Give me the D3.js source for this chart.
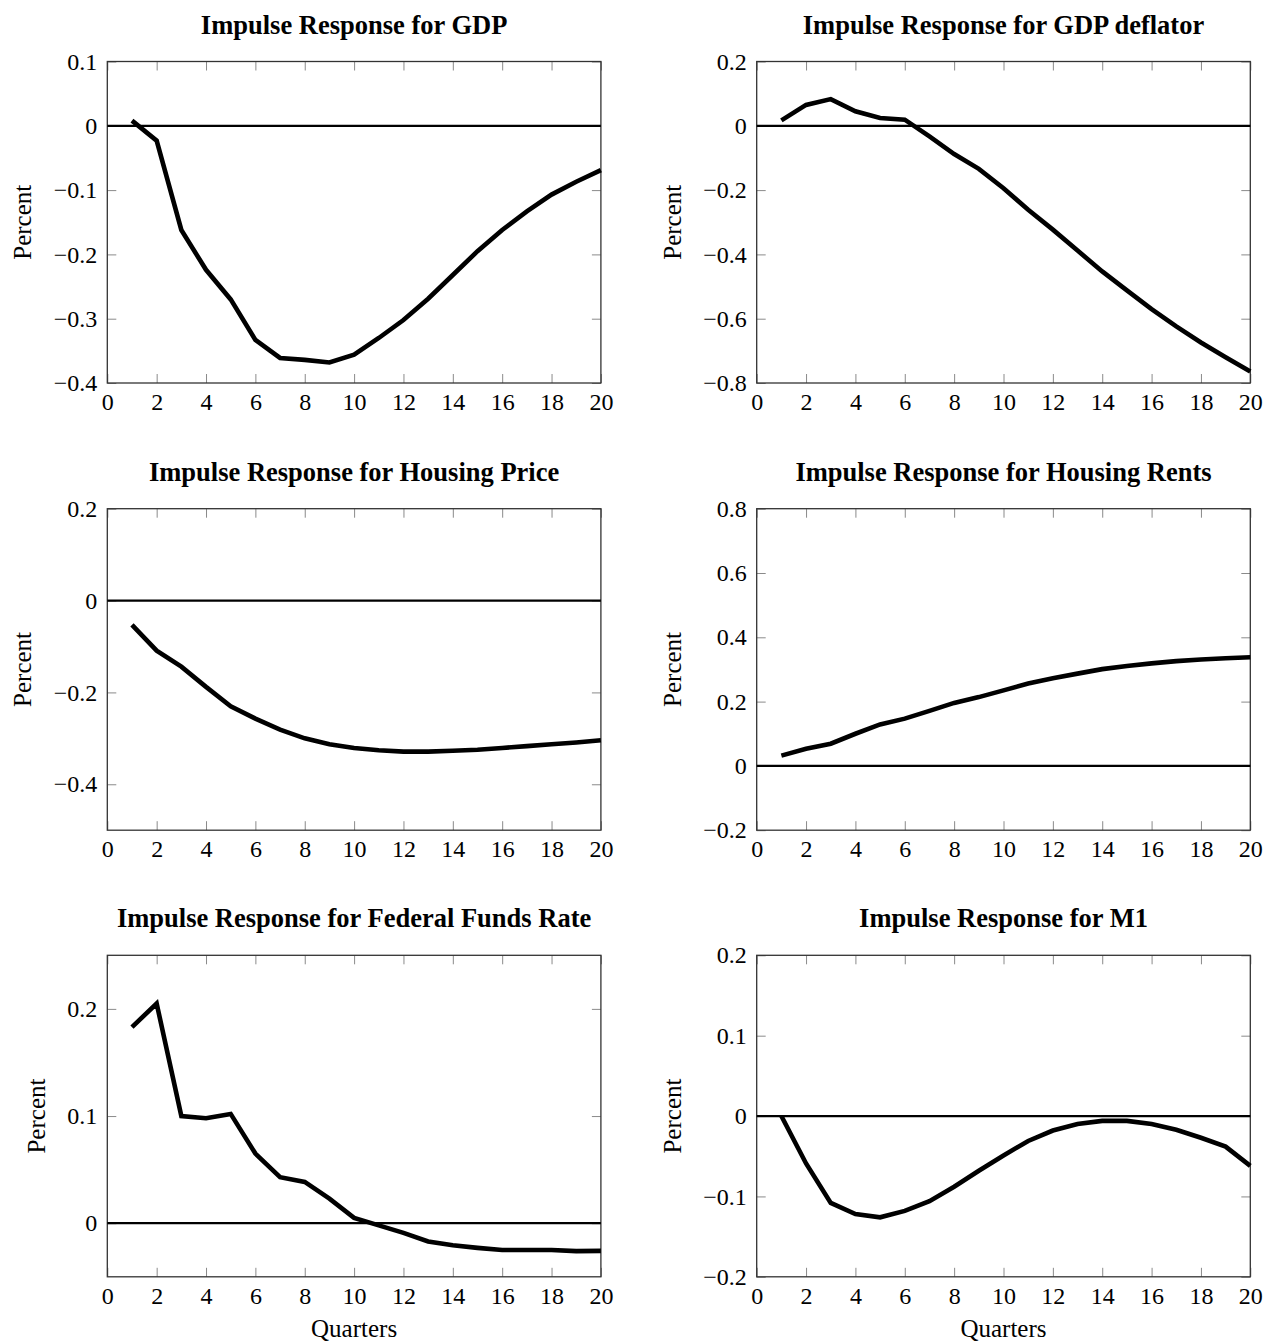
<!DOCTYPE html>
<html>
<head>
<meta charset="utf-8">
<script src="https://cdn.jsdelivr.net/npm/d3@7.9.0/dist/d3.min.js"></script>
<style>
  body { margin: 0; background: #fff; }
  svg text { font-family: "Liberation Serif", "Times New Roman", serif; fill: #000; }
</style>
</head>
<body>
<svg id="chart" width="1266" height="1342"></svg>
<script>
// quarters after the shock
const quarters = d3.range(1, 21);

// impulse responses
const gdp = [0.008, -0.023, -0.162, -0.224, -0.270, -0.333, -0.361, -0.364, -0.368, -0.356,
             -0.330, -0.302, -0.269, -0.232, -0.195, -0.162, -0.133, -0.107, -0.087, -0.069];
const gdpDeflator = [0.017, 0.065, 0.083, 0.045, 0.024, 0.019, -0.033, -0.088, -0.134, -0.194,
                     -0.261, -0.323, -0.388, -0.453, -0.512, -0.570, -0.624, -0.674, -0.720, -0.764];
const housingPrice = [-0.053, -0.109, -0.144, -0.188, -0.230, -0.257, -0.281, -0.300, -0.313, -0.321,
                      -0.326, -0.329, -0.329, -0.327, -0.325, -0.321, -0.317, -0.313, -0.309, -0.304];
const housingRents = [0.032, 0.053, 0.069, 0.100, 0.129, 0.147, 0.171, 0.196, 0.214, 0.235,
                      0.256, 0.273, 0.287, 0.301, 0.311, 0.319, 0.326, 0.331, 0.335, 0.338];
const fedFunds = [0.183, 0.205, 0.100, 0.098, 0.102, 0.065, 0.043, 0.0385, 0.023, 0.005,
                  -0.002, -0.009, -0.017, -0.0205, -0.023, -0.025, -0.025, -0.025, -0.026, -0.0258];
const m1 = [0.000, -0.059, -0.108, -0.122, -0.126, -0.118, -0.106, -0.088, -0.068, -0.049,
            -0.031, -0.018, -0.010, -0.006, -0.006, -0.010, -0.017, -0.027, -0.038, -0.062];

const titles = ["Impulse Response for GDP", "Impulse Response for GDP deflator",
                "Impulse Response for Housing Price", "Impulse Response for Housing Rents",
                "Impulse Response for Federal Funds Rate", "Impulse Response for M1"];
const series = [gdp, gdpDeflator, housingPrice, housingRents, fedFunds, m1];
const yDomains = [[-0.4, 0.1], [-0.8, 0.2], [-0.5, 0.2], [-0.2, 0.8], [-0.05, 0.25], [-0.2, 0.2]];
const yTicks = [
  [-0.4, -0.3, -0.2, -0.1, 0, 0.1],
  [-0.8, -0.6, -0.4, -0.2, 0, 0.2],
  [-0.4, -0.2, 0, 0.2],
  [-0.2, 0, 0.2, 0.4, 0.6, 0.8],
  [0, 0.1, 0.2],
  [-0.2, -0.1, 0, 0.1, 0.2]
];
const xDomain = [0, 20];
const xTicks = [0, 2, 4, 6, 8, 10, 12, 14, 16, 18, 20];
const yLabel = "Percent";
const xLabel = "Quarters";

// layout
const colLeft = [107.3, 756.7];
const rowTop = [61.5, 508.7, 955.3];
const plotW = 493.6, plotH = 321.5;
const serif = '"Liberation Serif", "Times New Roman", serif';

const svg = d3.select("#chart");
const fmt = v => v === 0 ? "0" : (v < 0 ? "\u2212" : "") + String(Math.abs(v));

series.forEach((values, i) => {
  const row = Math.floor(i / 2), col = i % 2;
  const g = svg.append("g").attr("transform", `translate(${colLeft[col]},${rowTop[row]})`);

  const x = d3.scaleLinear().domain(xDomain).range([0, plotW]);
  const y = d3.scaleLinear().domain(yDomains[i]).range([plotH, 0]);

  // bottom axis with labels, ticks pointing inward
  const bottom = g.append("g").attr("transform", `translate(0,${plotH})`)
    .call(d3.axisBottom(x).tickValues(xTicks).tickSize(-9).tickPadding(10).tickFormat(d => d));
  // top axis, ticks only
  const top = g.append("g")
    .call(d3.axisTop(x).tickValues(xTicks).tickSize(-9).tickFormat(""));
  // left axis with labels
  const left = g.append("g")
    .call(d3.axisLeft(y).tickValues(yTicks[i]).tickSize(-9).tickPadding(10).tickFormat(fmt));
  // right axis, ticks only
  const right = g.append("g").attr("transform", `translate(${plotW},0)`)
    .call(d3.axisRight(y).tickValues(yTicks[i]).tickSize(-9).tickFormat(""));

  [bottom, top, left, right].forEach(a => {
    a.select(".domain").remove();
    a.selectAll(".tick line").attr("stroke", "#8a8a8a").attr("stroke-width", 1);
    a.selectAll(".tick text").style("font-size", "24px").style("font-family", serif);
  });

  // frame
  g.append("rect")
    .attr("width", plotW).attr("height", plotH)
    .attr("fill", "none").attr("stroke", "#333").attr("stroke-width", 1.3);

  // zero line
  g.append("line")
    .attr("x1", x(xDomain[0])).attr("x2", x(xDomain[1]))
    .attr("y1", y(0)).attr("y2", y(0))
    .attr("stroke", "#000").attr("stroke-width", 2.2);

  // response line
  g.append("path")
    .datum(values)
    .attr("fill", "none")
    .attr("stroke", "#000")
    .attr("stroke-width", 4.6)
    .attr("d", d3.line().x((d, k) => x(quarters[k])).y(d => y(d)));

  // title
  g.append("text")
    .attr("x", plotW / 2).attr("y", -28)
    .attr("text-anchor", "middle")
    .style("font-weight", "bold")
    .style("font-size", "26.5px")
    .text(titles[i]);

  // y label placed left of the widest tick label
  let maxW = 0;
  left.selectAll(".tick text").each(function () { maxW = Math.max(maxW, this.getComputedTextLength()); });
  const lx = -(10 + maxW + 31);
  g.append("text")
    .attr("transform", `translate(${lx},${plotH / 2}) rotate(-90)`)
    .attr("text-anchor", "middle")
    .attr("dominant-baseline", "central")
    .style("font-size", "25px")
    .text(yLabel);

  if (row === 2) {
    g.append("text")
      .attr("x", plotW / 2).attr("y", plotH + 60)
      .attr("text-anchor", "middle")
      .style("font-size", "25px")
      .text(xLabel);
  }
});
</script>
</body>
</html>
